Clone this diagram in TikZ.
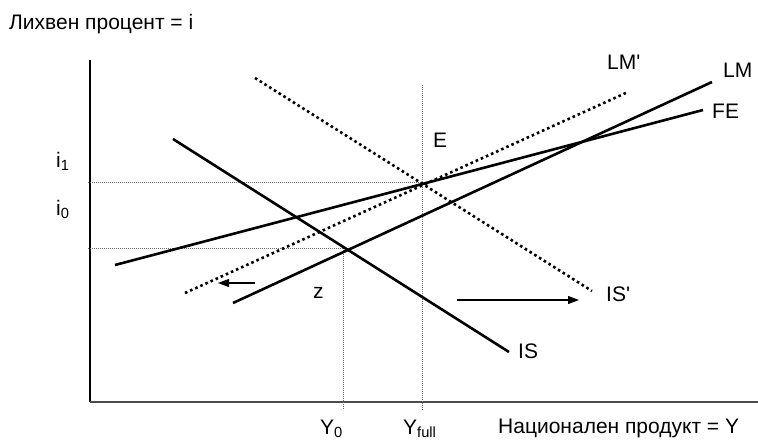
\documentclass[tikz,border=0pt]{standalone}
\usepackage{fontspec}
\setmainfont{Liberation Sans}
\usetikzlibrary{arrows.meta}
\begin{document}
\begin{tikzpicture}[x=1pt,y=-1pt,
  lbl/.style={anchor=base west,inner sep=0pt,font=\fontsize{21}{25}\selectfont},
  curve/.style={line width=2.6pt,black},
  dotcurve/.style={line width=2.6pt,black,dash pattern=on 2.6pt off 3pt},
  guide/.style={line width=0.8pt,gray!85!black,dash pattern=on 0.8pt off 1.2pt},
  shift arrow/.style={line width=1.2pt,-{Triangle[length=11pt,width=8pt]}}]
\useasboundingbox (0,0) rectangle (758,440);
% axes
\coordinate (O) at (90,402);
\coordinate (Ytop) at (90,60);
\coordinate (Xend) at (758,402);
\draw[line width=1.3pt] (O) -- (Ytop);
\draw[line width=1.6pt,black!70] (O) -- (Xend);
% curve end points
\coordinate (IS1) at (173,139);   \coordinate (IS2) at (509,352);
\coordinate (ISp1) at (255,78);   \coordinate (ISp2) at (592,291);
\coordinate (FE1) at (115,265);   \coordinate (FE2) at (703,110);
\coordinate (LM1) at (233,303);   \coordinate (LM2) at (712,82);
\coordinate (LMp1) at (185,293);  \coordinate (LMp2) at (628,92);
% guide points
\coordinate (i1a) at (88,182);  \coordinate (Ept) at (422,182);
\coordinate (i0a) at (88,248);  \coordinate (Zpt) at (343,248);
\coordinate (Y0b) at (343,410);
\coordinate (Yft) at (422,85);  \coordinate (Yfb) at (422,410);
% guides
\draw[guide] (i1a) -- (Ept);
\draw[guide] (i0a) -- (Zpt);
\draw[guide] (Zpt) -- (Y0b);
\draw[guide] (Yft) -- (Yfb);
% curves
\draw[curve] (IS1) -- (IS2);
\draw[dotcurve] (ISp1) -- (ISp2);
\draw[curve] (FE1) -- (FE2);
\draw[curve] (LM1) -- (LM2);
\draw[dotcurve] (LMp1) -- (LMp2);
% shift arrows
\coordinate (la1) at (255,283); \coordinate (la2) at (218,283);
\coordinate (ra1) at (457,300); \coordinate (ra2) at (579,300);
\draw[shift arrow] (la1) -- (la2);
\draw[shift arrow] (ra1) -- (ra2);
% labels
\node[lbl] (ylab) at (9,29) {Лихвен процент = i};
\node[lbl] (xlab) at (498,433) {Национален продукт = Y};
\node[lbl] (lLM) at (723,77) {LM};
\node[lbl] (lLMp) at (607,69) {LM\textquotesingle};
\node[lbl] (lFE) at (712,118) {FE};
\node[lbl] (lE) at (433,147) {E};
\node[lbl] (lISp) at (606,301) {IS\textquotesingle};
\node[lbl] (lIS) at (518,358) {IS};
\node[lbl] (lz) at (313,298) {z};
\node[lbl] (li1) at (56,167) {i\textsubscript{1}};
\node[lbl] (li0) at (56,215) {i\textsubscript{0}};
\node[lbl] (lY0) at (320,434) {Y\textsubscript{0}};
\node[lbl] (lYf) at (403,434) {Y\textsubscript{full}};
\end{tikzpicture}
\end{document}
